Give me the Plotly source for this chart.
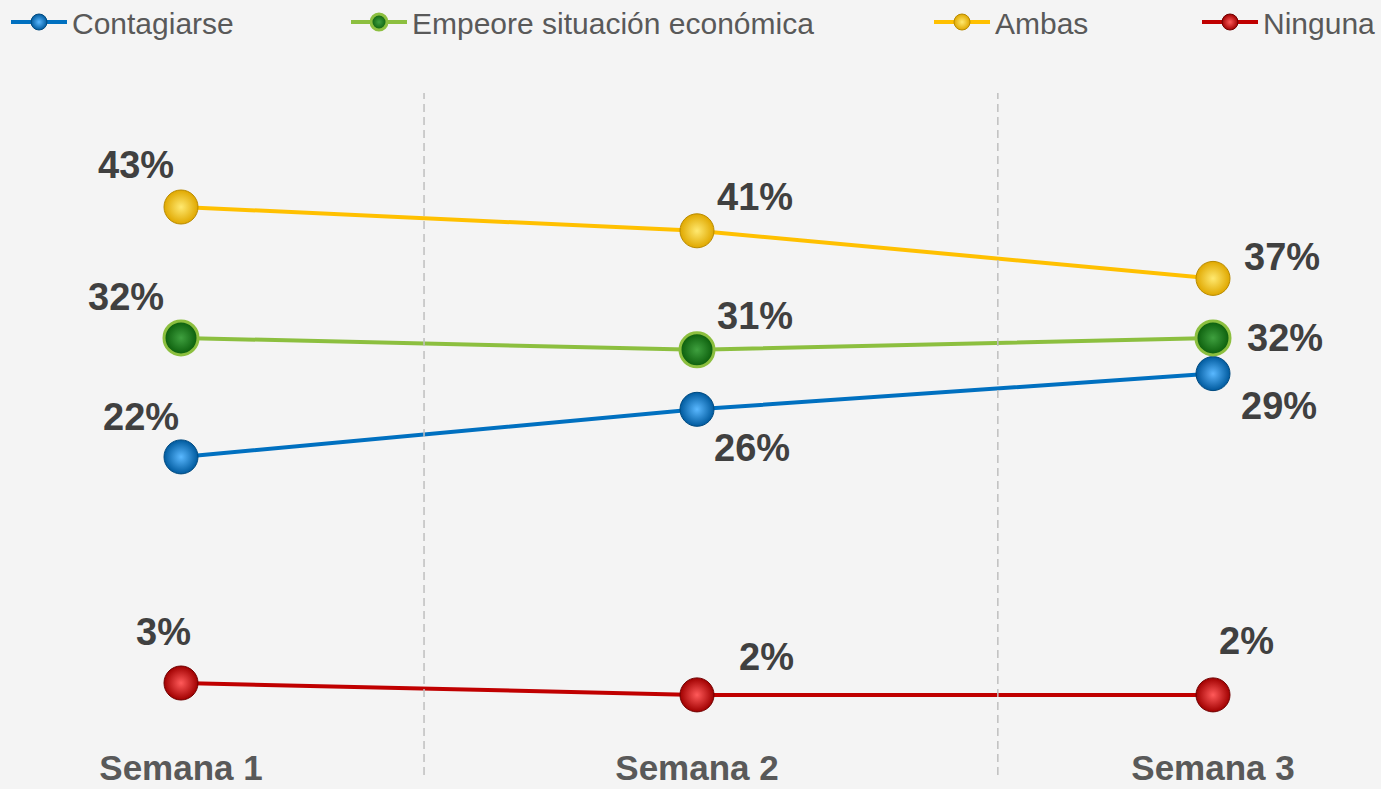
import plotly.graph_objects as go

# ---- data ----
semanas = ["Semana 1", "Semana 2", "Semana 3"]
contagiarse = [22, 26, 29]
empeore = [32, 31, 32]
ambas = [43, 41, 37]
ninguna = [3, 2, 2]

series_names = ["Contagiarse", "Empeore situación económica", "Ambas", "Ninguna"]
series_values = [contagiarse, empeore, ambas, ninguna]

# ---- styles ----
line_colors = ["#0070C0", "#8CBF3F", "#FFC000", "#C00000"]
marker_colors = ["#005A9E", "#0A5C0A", "#E0A800", "#A00000"]
highlight_colors = ["#5AB8FF", "#3FA03F", "#FFE970", "#FF5A5A"]
marker_lines = ["#004A80", "#8CBF3F", "#B88A00", "#700000"]
marker_line_w = [1, 3, 1, 1]
# label offsets (px) per series per point
label_shift = [
    [(-40, 40), (55, -39), (66, -32)],
    [(-55, 41), (58, 34), (72, 0)],
    [(-45, 42), (58, 34), (69, 21)],
    [(-18, 51), (69, 38), (33, 54)],
]
legend_x_px = [12, 352, 935, 1203]
W, H = 1381, 789

LABEL_FONT = "Liberation Sans, Arial"
LEGEND_FONT = "Liberation Sans, Arial"

fig = go.Figure()
legend_ids = ["legend", "legend2", "legend3", "legend4"]
for i, (name, vals) in enumerate(zip(series_names, series_values)):
    fig.add_trace(go.Scatter(
        x=semanas, y=vals, name=name, mode="lines+markers",
        legend=legend_ids[i],
        line=dict(color=line_colors[i], width=4),
        marker=dict(size=34, color=marker_colors[i],
                    gradient=dict(type="radial", color=highlight_colors[i]),
                    line=dict(color=marker_lines[i], width=marker_line_w[i])),
        hoverinfo="skip",
    ))
    for j, v in enumerate(vals):
        dx, dy = label_shift[i][j]
        fig.add_annotation(
            x=semanas[j], y=v, text=f"{v}%", showarrow=False,
            xshift=dx, yshift=dy,
            font=dict(family=LABEL_FONT, size=38, color="#404040", weight="bold"),
        )

# dividers
PLOT_TOP, PLOT_BOTTOM = 93, 744
for xv in [0.471, 1.583]:
    fig.add_shape(type="line", xref="x", yref="paper", x0=xv, x1=xv,
                  y0=-(775 - PLOT_BOTTOM) / (PLOT_BOTTOM - PLOT_TOP), y1=1.0,
                  line=dict(color="#BFBFBF", width=1.5, dash="8px,5px"))

layout_legends = {}
for k, lid in enumerate(legend_ids):
    layout_legends[lid] = dict(
        x=(legend_x_px[k] - 6) / W, xref="container", xanchor="left",
        y=1 - 22 / H, yref="container", yanchor="middle",
        orientation="h", bgcolor="rgba(0,0,0,0)", borderwidth=0,
        font=dict(family=LEGEND_FONT, size=30, color="#595959"),
        itemwidth=56, itemclick=False, itemdoubleclick=False,
    )

fig.update_layout(
    width=W, height=H,
    paper_bgcolor="#F4F4F4", plot_bgcolor="#F4F4F4",
    margin=dict(l=0, r=0, t=PLOT_TOP, b=H - PLOT_BOTTOM, autoexpand=False),
    showlegend=True,
    **layout_legends,
    xaxis=dict(type="category", range=[-181 / 516, 2 + 168 / 516],
               automargin=False,
               showgrid=False, zeroline=False, showline=False, ticks="",
               tickfont=dict(family=LABEL_FONT, size=35, color="#595959", weight="bold")),
    yaxis=dict(range=[43 - (PLOT_BOTTOM - 207) / 11.9, 43 + (207 - PLOT_TOP) / 11.9],
               automargin=False,
               showgrid=False, zeroline=False, showline=False,
               showticklabels=False, ticks=""),
)

fig.write_html("out.html", config={"displayModeBar": False},
               post_script="document.body.style.margin='0';")
